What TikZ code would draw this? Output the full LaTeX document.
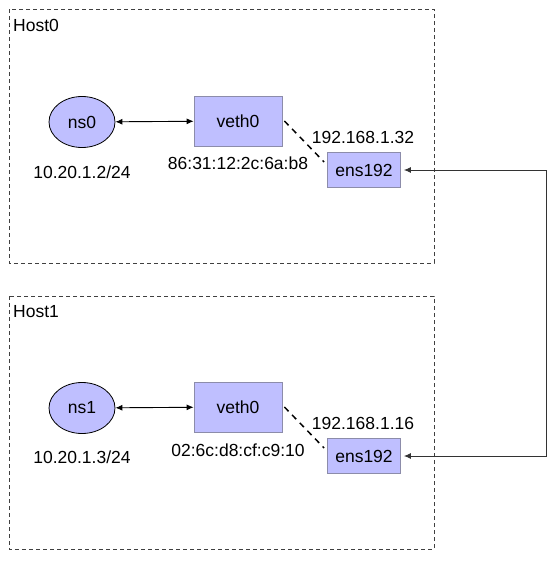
\documentclass[tikz,border=0pt]{standalone}
\usepackage{fontspec}
\setmainfont{Liberation Sans}
\usetikzlibrary{shapes.geometric,arrows.meta}

\definecolor{ifacefill}{RGB}{191,191,255}
\definecolor{ifaceline}{RGB}{140,140,170}

\tikzset{
    hostbox/.style={draw=black!75, line width=0.9pt, dash pattern=on 4pt off 3pt},
    nsnode/.style={ellipse, draw=black, line width=0.8pt, fill=ifacefill, minimum width=66pt, minimum height=51pt, inner sep=0pt},
    ifbox/.style={draw=ifaceline, line width=0.8pt, fill=ifacefill, inner sep=0pt},
    link/.style={line width=1.5pt, dash pattern=on 6pt off 5pt},
    wire/.style={{Latex[length=7pt,width=6pt]}-{Latex[length=7pt,width=6pt]}, line width=0.9pt},
}

\begin{document}
\begin{tikzpicture}[x=1pt, y=-1pt, font=\fontsize{17.5}{21}\selectfont]
    \useasboundingbox (0,0) rectangle (557,562);

    % hosts
    \draw[hostbox] (9,9) rectangle (434,263);
    \node[anchor=west, inner sep=0pt] (h0) at (13,25) {Host0};
    \draw[hostbox] (9,296) rectangle (434,549);
    \node[anchor=west, inner sep=0pt] (h1) at (13,312) {Host1};

    % host0
    \node[nsnode] (ns0) at (82,122) {ns0};
    \node[ifbox, minimum width=88pt, minimum height=50pt] (veth0a) at (238,121) {veth0};
    \node[ifbox, minimum width=73pt, minimum height=35pt] (ensa) at (364,170) {ens192};
    \node (ipa) at (82,172) {10.20.1.2/24};
    \node (maca) at (238,163) {86:31:12:2c:6a:b8};
    \node (hosta) at (363,137) {192.168.1.32};

    % host1
    \node[nsnode] (ns1) at (82,408) {ns1};
    \node[ifbox, minimum width=88pt, minimum height=50pt] (veth0b) at (238,407) {veth0};
    \node[ifbox, minimum width=73pt, minimum height=35pt] (ensb) at (364,456) {ens192};
    \node (ipb) at (82,457) {10.20.1.3/24};
    \node (macb) at (238,450) {02:6c:d8:cf:c9:10};
    \node (hostb) at (363,423) {192.168.1.16};

    \draw[wire] (ns0) -- (veth0a);
    \draw[wire] (ns1) -- (veth0b);

    \draw[link] ([xshift=2pt]veth0a.east) -- ([yshift=8pt, xshift=-3pt]ensa.west);
    \draw[link] ([xshift=2pt]veth0b.east) -- ([yshift=8pt, xshift=-3pt]ensb.west);

    \coordinate (ca) at (546,170);
    \coordinate (cb) at (546,456);
    \draw[wire, black!80] ([xshift=3pt]ensa.east) -- (ca) -- (cb) -- ([xshift=3pt]ensb.east);
\end{tikzpicture}
\end{document}
